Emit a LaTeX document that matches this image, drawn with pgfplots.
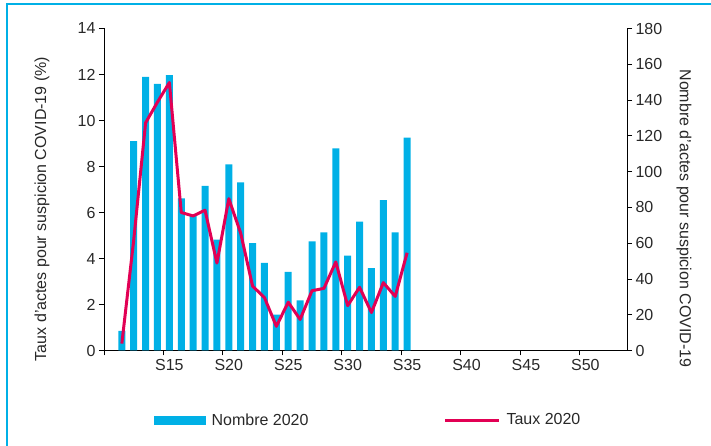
\documentclass[border=0pt]{standalone}
\usepackage{pgfplots}
\pgfplotsset{compat=1.18}
\usepackage{fontspec}
\setmainfont{Liberation Sans}
\definecolor{barblue}{RGB}{0,176,230}
\definecolor{linered}{RGB}{226,0,84}
\definecolor{framecol}{RGB}{0,176,230}
\definecolor{txt}{RGB}{40,40,40}
\begin{document}
\begin{tikzpicture}[x=1pt,y=1pt]
\useasboundingbox (-104,-95.5) rectangle (607,350.5);
\draw[framecol, line width=2pt] (-96.5,-110) -- (-96.5,346) -- (620,346);
\begin{axis}[
  at={(0pt,0pt)}, anchor=south west,
  scale only axis, width=523pt, height=322pt,
  xmin=9.5, xmax=53.5, ymin=0, ymax=180,
  axis x line*=bottom, axis y line*=right,
  axis line style={black, line width=0.8pt},
  tick align=outside, major tick length=5pt,
  tick style={black, line width=0.8pt},
  xtick={9.5,14.5,...,49.5},
  xticklabels={,S15,S20,S25,S30,S35,S40,S45,S50},
  xticklabel style={xshift=5.94pt, font=\fontsize{16}{19}\selectfont, text=txt},
  ytick={0,20,...,180},
  yticklabel style={font=\fontsize{16}{19}\selectfont, text=txt},
  /pgf/number format/assume math mode=true,
  ybar, bar width=7pt,
]
\addplot[fill=barblue, draw=none] coordinates {
(11,11) (12,117) (13,153) (14,149) (15,154) (16,85) (17,76) (18,92) (19,62) (20,104)
(21,94) (22,60) (23,49) (24,20) (25,44) (26,28) (27,61) (28,66) (29,113) (30,53)
(31,72) (32,46) (33,84) (34,66) (35,119)
};
\end{axis}
\begin{axis}[
  at={(0pt,0pt)}, anchor=south west,
  scale only axis, width=523pt, height=322pt,
  xmin=9.5, xmax=53.5, ymin=0, ymax=14,
  axis x line=none, axis y line*=left,
  axis line style={black, line width=0.8pt},
  tick align=outside, major tick length=5pt,
  tick style={black, line width=0.8pt},
  ytick={0,2,...,14},
  yticklabel style={font=\fontsize{16}{19}\selectfont, text=txt},
  /pgf/number format/assume math mode=true,
  legend columns=2,
  legend style={at={(0.0956,-0.216)}, anchor=west, draw=none, fill=none,
    inner sep=0pt, font=\fontsize{16}{19}\selectfont, text=txt,
    /tikz/column 1/.style={column sep=4pt},
    /tikz/column 2/.style={column sep=133pt},
    /tikz/column 3/.style={column sep=4pt}},
]
\addlegendimage{legend image code/.code={\fill[barblue] (0pt,-4pt) rectangle (51pt,4pt);}}
\addlegendentry{Nombre 2020}
\addplot[linered, line width=3pt, line join=round,
  legend image code/.code={\draw[linered, line width=3pt] (0pt,0pt) -- (54pt,0pt);}] coordinates {
(11,0.3) (12,4.8) (13,9.9) (14,10.8) (15,11.65) (16,6.0) (17,5.85) (18,6.1) (19,3.8) (20,6.6)
(21,5.1) (22,2.8) (23,2.3) (24,1.05) (25,2.1) (26,1.35) (27,2.6) (28,2.7) (29,3.85) (30,1.95)
(31,2.75) (32,1.65) (33,2.95) (34,2.35) (35,4.25)
};
\addlegendentry{Taux 2020}
\end{axis}
\node[rotate=90, text=txt, font=\fontsize{16}{19}\selectfont] at (-62,141.5) {Taux d'actes pour suspicion COVID-19 (\%)};
\node[rotate=-90, text=txt, font=\fontsize{16}{19}\selectfont] at (580,132) {Nombre d'actes pour suspicion COVID-19};
\end{tikzpicture}
\end{document}
